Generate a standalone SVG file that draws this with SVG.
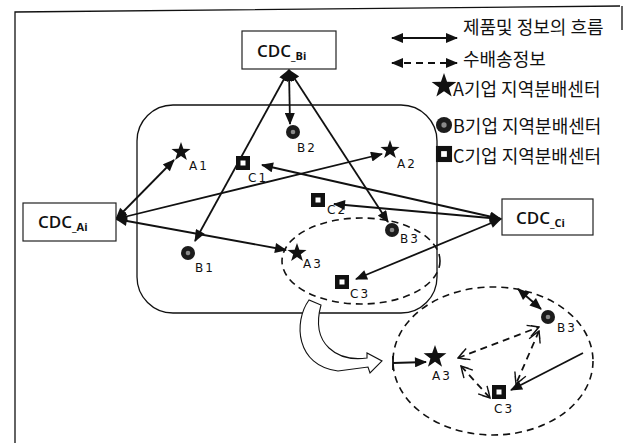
<svg xmlns="http://www.w3.org/2000/svg" width="625" height="444" viewBox="0 0 625 444">
<style>
.frame{fill:none;stroke:#111;stroke-width:1.3}
.box{fill:#fff;stroke:#222;stroke-width:1.2}
.cdc{font-family:"Open Sans","Liberation Sans",sans-serif;font-size:17px;font-weight:600;fill:#111}
.sub{font-size:11px;font-weight:700}
.lbl{font-family:"DejaVu Sans",sans-serif;font-size:12px;letter-spacing:2px;fill:#111}
.leg{font-family:"Noto Sans CJK KR","Noto Sans",sans-serif;font-size:18px;fill:#111}
.sol{fill:none;stroke:#111;stroke-width:1.8}
.dsh{fill:none;stroke:#111;stroke-width:1.8;stroke-dasharray:7 5}
.ell{fill:none;stroke:#111;stroke-width:1.6;stroke-dasharray:7 5}
</style>
<defs>
<marker id="ah" viewBox="0 0 12 10" refX="11" refY="5" markerWidth="13" markerHeight="10" markerUnits="userSpaceOnUse" orient="auto-start-reverse">
<path d="M0,0 L12,5 L0,10 z" fill="#111"/>
</marker>
<marker id="ch" viewBox="0 0 14 14" refX="13" refY="7" markerWidth="14" markerHeight="14" markerUnits="userSpaceOnUse" orient="auto-start-reverse">
<path d="M2,1 L13,7 L2,13 M6,3 L13,7 L6,11" fill="none" stroke="#111" stroke-width="1.4"/>
</marker>
<polygon id="star" points="0,-10 2.35,-3.24 9.51,-3.09 3.8,1.24 5.88,8.09 0,4 -5.88,8.09 -3.8,1.24 -9.51,-3.09 -2.35,-3.24" fill="#111"/>
<g id="dot"><circle r="7" fill="#1c1c1c"/><circle r="2.3" fill="#8a8a8a"/></g>
<g id="sq"><rect x="-7" y="-7" width="14" height="14" fill="#111"/><rect x="-2.5" y="-2.5" width="5" height="5" fill="#fff"/></g>
</defs>
<rect width="625" height="444" fill="#fff"/>
<path class="frame" d="M15,443 L15,12 L620,6 M622,6 L622,30"/>

<rect id="region" x="137" y="105" width="300" height="208" rx="36" fill="none" stroke="#111" stroke-width="1.3"/>
<ellipse id="cluster-small" cx="361" cy="261" rx="79" ry="43" class="ell"/>
<ellipse id="cluster-large" cx="493" cy="361" rx="100" ry="74" class="ell"/>
<path id="zoom-arrow" d="M309,300 C293,322 296,366 338,371 L368,367 L370,373 L382,361 L367,353 L367,358 C338,362 310,345 321,305 Z" fill="#fff" stroke="#111" stroke-width="1.1"/>

<g id="connectors">
<line class="sol" x1="116" y1="219" x2="174" y2="160" marker-start="url(#ah)" marker-end="url(#ah)"/>
<line class="sol" x1="116" y1="219" x2="382" y2="154" marker-start="url(#ah)" marker-end="url(#ah)"/>
<line class="sol" x1="116" y1="219" x2="286" y2="250" marker-start="url(#ah)" marker-end="url(#ah)"/>
<line class="sol" x1="289" y1="70" x2="290" y2="124" marker-start="url(#ah)" marker-end="url(#ah)"/>
<line class="sol" x1="289" y1="70" x2="195" y2="241" marker-start="url(#ah)" marker-end="url(#ah)"/>
<line class="sol" x1="289" y1="70" x2="388" y2="222" marker-start="url(#ah)" marker-end="url(#ah)"/>
<line class="sol" x1="501" y1="219" x2="262" y2="165" marker-start="url(#ah)" marker-end="url(#ah)"/>
<line class="sol" x1="501" y1="219" x2="334" y2="204" marker-start="url(#ah)" marker-end="url(#ah)"/>
<line class="sol" x1="501" y1="219" x2="356" y2="279" marker-start="url(#ah)" marker-end="url(#ah)"/>
<line class="sol" x1="393" y1="356" x2="393" y2="370"/>
<line class="sol" x1="393" y1="363" x2="426" y2="362" marker-end="url(#ah)"/>
<line class="sol" x1="518" y1="289" x2="541" y2="309" marker-start="url(#ah)" marker-end="url(#ah)"/>
<line class="sol" x1="583" y1="353" x2="511" y2="390" marker-end="url(#ah)"/>
<line class="dsh" x1="458" y1="358" x2="539" y2="327" marker-start="url(#ch)" marker-end="url(#ch)"/>
<line class="dsh" x1="539" y1="331" x2="516" y2="384" marker-start="url(#ch)" marker-end="url(#ch)"/>
<line class="dsh" x1="461" y1="366" x2="490" y2="398" marker-start="url(#ch)" marker-end="url(#ch)"/>
<line class="sol" x1="392" y1="38" x2="457" y2="38" marker-start="url(#ah)" marker-end="url(#ah)"/>
<line class="dsh" x1="392" y1="63" x2="457" y2="63" marker-start="url(#ah)" marker-end="url(#ah)"/>
</g>

<g id="CDC_Bi"><rect class="box" x="242" y="31" width="94" height="38"/><text class="cdc" x="257" y="57">CDC<tspan class="sub" dy="3">_Bi</tspan></text></g>
<g id="CDC_Ai"><rect class="box" x="23" y="203" width="93" height="38"/><text class="cdc" x="38" y="228">CDC<tspan class="sub" dy="3">_Ai</tspan></text></g>
<g id="CDC_Ci"><rect class="box" x="502" y="199" width="91" height="36"/><text class="cdc" x="516" y="224">CDC<tspan class="sub" dy="3">_Ci</tspan></text></g>

<g id="A1"><use href="#star" x="181" y="152"/><text class="lbl" x="189" y="170">A1</text></g>
<g id="A2"><use href="#star" x="390" y="150"/><text class="lbl" x="397" y="168">A2</text></g>
<g id="A3"><use href="#star" x="297" y="253"/><text class="lbl" x="303" y="268">A3</text></g>
<g id="B1"><use href="#dot" x="188" y="253"/><text class="lbl" x="195" y="272">B1</text></g>
<g id="B2"><use href="#dot" x="293" y="132"/><text class="lbl" x="297" y="152">B2</text></g>
<g id="B3"><use href="#dot" x="392" y="230"/><text class="lbl" x="400" y="243">B3</text></g>
<g id="C1"><use href="#sq" x="243" y="163"/><text class="lbl" x="248" y="182">C1</text></g>
<g id="C2"><use href="#sq" x="318" y="200"/><text class="lbl" x="327" y="214">C2</text></g>
<g id="C3"><use href="#sq" x="342" y="282"/><text class="lbl" x="350" y="298">C3</text></g>

<g id="A3-detail"><use href="#star" transform="translate(435,357) scale(1.2)"/><text class="lbl" x="432" y="380">A3</text></g>
<g id="B3-detail"><use href="#dot" x="548" y="317"/><text class="lbl" x="557" y="332">B3</text></g>
<g id="C3-detail"><use href="#sq" x="499" y="392"/><text class="lbl" x="494" y="413">C3</text></g>

<g id="legend">
<text class="leg" x="463" y="34">제품및 정보의 흐름</text>
<text class="leg" x="463" y="66">수배송정보</text>
<use href="#star" transform="translate(444,86) scale(1.3)"/>
<text class="leg" x="453" y="96">A기업 지역분배센터</text>
<use href="#dot" transform="translate(444,125) scale(1.15)"/>
<text class="leg" x="453" y="133">B기업 지역분배센터</text>
<use href="#sq" transform="translate(444,154) scale(1.15)"/>
<text class="leg" x="453" y="163">C기업 지역분배센터</text>
</g>
</svg>
